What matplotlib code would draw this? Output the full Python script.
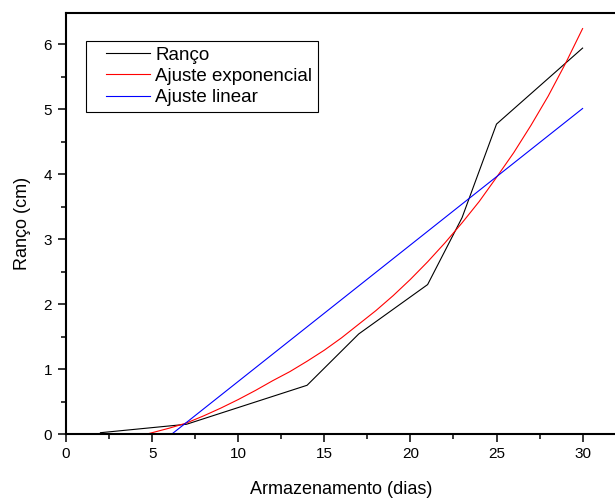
import numpy as np
import matplotlib
matplotlib.use("Agg")
import matplotlib.pyplot as plt
from matplotlib.legend_handler import HandlerLine2D
from matplotlib.ticker import MultipleLocator

plt.rcParams["font.family"] = ["Liberation Sans", "DejaVu Sans"]

# storage time (days) and measured rancidity (cm)
dias = [2, 7, 14, 17, 21, 23, 25, 30]
ranco = [0.02, 0.15, 0.75, 1.54, 2.30, 3.33, 4.77, 5.94]

# exponential fit curve
dias_exp = [4.7, 5, 6, 7, 8, 9, 10, 11, 12, 13, 14, 15, 16, 17, 18,
            19, 20, 21, 22, 23, 24, 25, 26, 27, 28, 29, 30]
ranco_exp = [0.0, 0.02, 0.09, 0.17, 0.28, 0.40, 0.53, 0.67, 0.82, 0.96, 1.12,
             1.29, 1.48, 1.69, 1.90, 2.13, 2.38, 2.65, 2.94, 3.25, 3.58,
             3.95, 4.33, 4.75, 5.20, 5.70, 6.24]

# linear fit
dias_lin = [6.15, 30]
ranco_lin = [0.0, 5.01]


class PaddedLine(HandlerLine2D):
    # leave some blank space left of each legend line
    def create_artists(self, legend, orig_handle, xdescent, ydescent,
                       width, height, fontsize, trans):
        pad = 0.75 * fontsize
        return super().create_artists(legend, orig_handle, xdescent - pad, ydescent,
                                      width - pad, height, fontsize, trans)


fig = plt.figure(figsize=(6.15, 4.99), dpi=100)
ax = fig.add_axes([66 / 615, 65 / 499, 32 * 17.22 / 615, 421 / 499])

l1, = ax.plot(dias, ranco, color="black", lw=0.8, label="Ranço")
l2, = ax.plot(dias_exp, ranco_exp, color="#ff0000", lw=0.8, label="Ajuste exponencial")
l3, = ax.plot(dias_lin, ranco_lin, color="#0000ff", lw=0.8, label="Ajuste linear")

ax.set_xlim(0, 32)
ax.set_ylim(0, 6.48)
ax.xaxis.set_major_locator(MultipleLocator(5))
ax.xaxis.set_minor_locator(MultipleLocator(2.5))
ax.yaxis.set_major_locator(MultipleLocator(1))
ax.yaxis.set_minor_locator(MultipleLocator(0.5))

for s in ax.spines.values():
    s.set_linewidth(1.5)
ax.tick_params(which="major", direction="out", length=6, width=1.1,
               labelsize=11, colors="black")
ax.tick_params(which="minor", direction="out", length=3.5, width=1.1)
ax.tick_params(axis="x", pad=3.5)
ax.tick_params(axis="y", pad=4)

ax.set_xlabel("Armazenamento (dias)", fontsize=13, labelpad=14)
ax.set_ylabel("Ranço (cm)", fontsize=13, labelpad=9)

leg = ax.legend(handles=[l1, l2, l3], loc="upper left",
                bbox_to_anchor=(86 / 615, 1 - 41 / 499),
                bbox_transform=fig.transFigure, borderaxespad=0,
                fontsize=13.5, frameon=True, fancybox=False, framealpha=1,
                edgecolor="black", borderpad=0.3, labelspacing=0.22,
                handlelength=3.1, handletextpad=0.3,
                handler_map={matplotlib.lines.Line2D: PaddedLine()})
leg.get_frame().set_linewidth(0.8)

fig.savefig("out.png", dpi=100)
